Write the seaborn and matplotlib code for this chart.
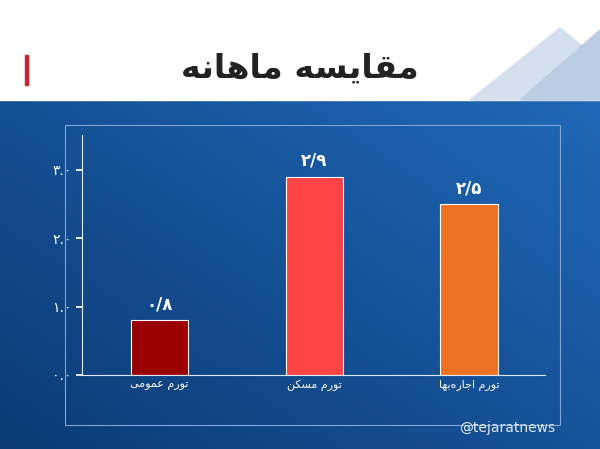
import numpy as np
import pandas as pd
import matplotlib
matplotlib.use("Agg")
import matplotlib.pyplot as plt
import seaborn as sns
from matplotlib.patches import Polygon, Rectangle

# Persian text pre-shaped in visual order (presentation forms)
title = "\uFEEA\uFEE7\uFE8E\uFEEB\uFE8E\uFEE3 \uFEEA\uFEB4\uFEF3\uFE8E\uFED8\uFEE3"
categories = [
    "\uFEF0\uFEE3\uFEEE\uFEE4\uFECB \uFEE1\uFEAD\uFEEE\uFE97",
    "\uFEE6\uFEDC\uFEB4\uFEE3 \uFEE1\uFEAD\uFEEE\uFE97",
    "\uFE8E\uFEEC\uFE91\uFEE9\uFEAD\uFE8E\uFE9F\uFE8D \uFEE1\uFEAD\uFEEE\uFE97",
]
values = [0.8, 2.9, 2.5]
value_labels = ["\u06F0/\u06F8", "\u06F2/\u06F9", "\u06F2/\u06F5"]
colors = ["#9a0000", "#ff4244", "#ee7022"]
yticks = [0, 1, 2, 3]
ytick_labels = ["\u06F0.\u06F0", "\u06F1.\u06F0", "\u06F2.\u06F0", "\u06F3.\u06F0"]

sns.set_theme(style="white")
plt.rcParams['font.family'] = ['DejaVu Sans', 'Noto Sans']

fig = plt.figure(figsize=(6, 4.49), dpi=100)
W, H = 600, 449

# background
bg = fig.add_axes([0, 0, 1, 1])
bg.set_xlim(0, W); bg.set_ylim(H, 0); bg.axis("off")
yy, xx = np.mgrid[0:349, 0:600]
grad = 0.55 + 0.45 * (xx / 600) * 0.6 + 0.4 * (1 - yy / 349) * 0.6
c1 = np.array([0x0b, 0x3a, 0x75]) / 255
c2 = np.array([0x22, 0x6c, 0xbd]) / 255
t = np.clip((grad - 0.55) / 0.55, 0, 1)[..., None]
img = c1 * (1 - t) + c2 * t
bg.imshow(img, extent=[0, 600, 449, 100], aspect="auto", zorder=0)
bg.add_patch(Rectangle((0, 0), 600, 100, color="white", zorder=1))
bg.add_patch(Polygon([[470, 100], [560, 28], [600, 60], [600, 100]], color="#d5e0ee", zorder=2))
bg.add_patch(Polygon([[520, 100], [600, 30], [600, 100]], color="#bccde3", zorder=2))
bg.add_patch(Rectangle((25, 55), 3, 30, color="#d0202a", zorder=3))
bg.text(300, 68, title, ha="center", va="center", fontsize=24, fontweight="bold", color="#222222", zorder=3)
bg.add_patch(Rectangle((65, 125), 495, 300, fill=False, ec="#7fa6d6", lw=0.8, zorder=2))
bg.text(555, 428, "@tejaratnews", ha="right", va="center", fontsize=10, color="#e0e8f5", zorder=3)

ax = fig.add_axes([82 / W, (H - 375) / H, 463 / W, 240 / H])
ax.patch.set_alpha(0)
df = pd.DataFrame({"cat": categories, "val": values})
sns.barplot(data=df, x="cat", y="val", hue="cat", palette=colors, legend=False,
            width=0.37, ax=ax, saturation=1, edgecolor="white", linewidth=0.8)
ax.set_xlim(-0.5, 2.49)
ax.set_ylim(0, 3.51)
ax.set_xlabel(""); ax.set_ylabel("")
ax.set_yticks(yticks)
ax.set_yticklabels(ytick_labels, color="white", fontsize=10)
ax.tick_params(axis="x", colors="white", labelsize=8, length=0)
ax.tick_params(axis="y", colors="white", length=4, direction="out", left=True)
for s in ["top", "right"]:
    ax.spines[s].set_visible(False)
for s in ["left", "bottom"]:
    ax.spines[s].set_color("#dfe8f5"); ax.spines[s].set_linewidth(0.8)
for i, (v, lab) in enumerate(zip(values, value_labels)):
    ax.text(i, v + 0.1, lab, ha="center", va="bottom", color="white", fontsize=12, fontweight="bold")

fig.savefig("out.png", dpi=100)
